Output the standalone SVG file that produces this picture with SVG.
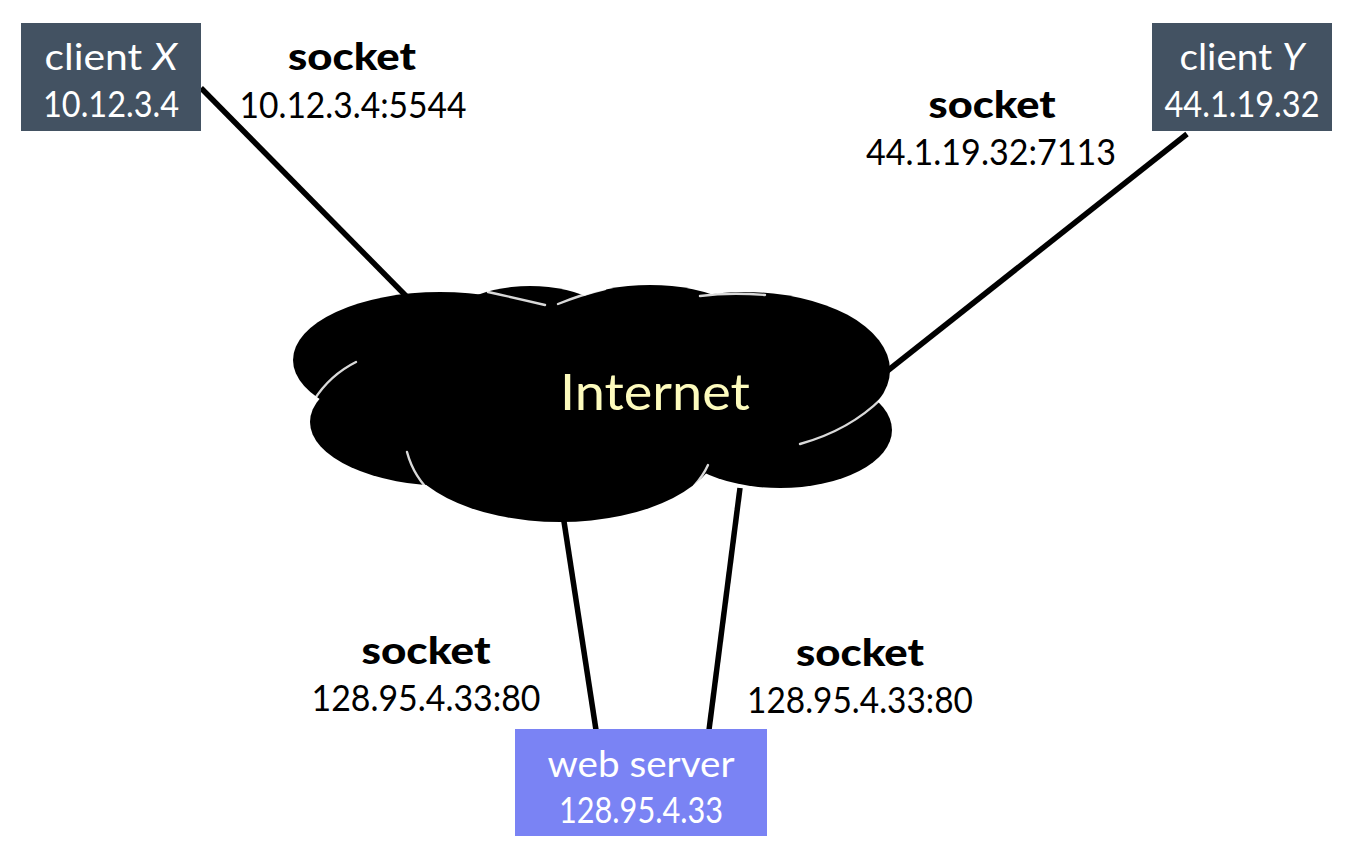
<svg xmlns="http://www.w3.org/2000/svg" width="1350" height="860" viewBox="0 0 1350 860">
<style>
.box{fill:#435262}
.srv{fill:#7a83f4}
.bt{font-family:Lato,"Open Sans","DejaVu Sans",sans-serif;font-size:37px;fill:#ffffff;text-anchor:middle}
.lbl{font-family:Lato,"Open Sans","DejaVu Sans",sans-serif;font-size:37px;fill:#000;text-anchor:middle}
.sock{font-family:Lato,"Open Sans","DejaVu Sans",sans-serif;font-size:38px;font-weight:900;fill:#000;text-anchor:middle}
.conn{stroke:#000;stroke-width:5.5;stroke-linecap:butt;fill:none}
.seam{stroke:#ffffff;stroke-width:2.4;fill:none;stroke-linecap:round;opacity:0.85}
</style>
<rect width="1350" height="860" fill="#ffffff"/>
<g id="connectors">
<line class="conn" x1="201" y1="88" x2="410" y2="300"/>
<line class="conn" x1="1187" y1="134" x2="886" y2="372"/>
<line class="conn" x1="563" y1="515" x2="596" y2="730"/>
<line class="conn" x1="740" y1="488" x2="709" y2="730"/>
</g>
<g id="internet">
<g fill="#000">
<ellipse cx="440" cy="360" rx="147" ry="68"/>
<ellipse cx="450" cy="422" rx="140" ry="64"/>
<ellipse cx="560" cy="440" rx="160" ry="82"/>
<ellipse cx="530" cy="340" rx="95" ry="54"/>
<ellipse cx="650" cy="342" rx="112" ry="57"/>
<ellipse cx="780" cy="430" rx="112" ry="58"/>
<ellipse cx="745" cy="370" rx="145" ry="78"/>
<ellipse cx="600" cy="400" rx="150" ry="90"/>
</g>
<path class="seam" d="M488,292 Q520,299 545,305"/>
<path class="seam" d="M558,304 Q580,295 605,289"/>
<path class="seam" d="M700,296 Q730,292 765,295" opacity="0.5"/>
<path class="seam" d="M314,400 Q330,375 356,362"/>
<path class="seam" d="M407,452 Q414,478 434,495"/>
<path class="seam" d="M708,465 Q703,476 694,486"/>
<path class="seam" d="M882,398 Q850,430 800,444"/>
<text x="655" y="410" font-family="Lato,'Open Sans','DejaVu Sans',sans-serif" font-size="50" fill="#fdfbbd" text-anchor="middle" textLength="190" lengthAdjust="spacingAndGlyphs">Internet</text>
</g>
<g id="clientX">
<rect class="box" x="21" y="23" width="180" height="108"/>
<text class="bt" x="111" y="70" textLength="133" lengthAdjust="spacingAndGlyphs">client <tspan font-style="italic">X</tspan></text>
<text class="bt" x="111" y="117" textLength="136" lengthAdjust="spacingAndGlyphs">10.12.3.4</text>
</g>
<g id="clientY">
<rect class="box" x="1152" y="23" width="180" height="108"/>
<text class="bt" x="1242" y="70" textLength="125" lengthAdjust="spacingAndGlyphs">client <tspan font-style="italic">Y</tspan></text>
<text class="bt" x="1242" y="117" textLength="155" lengthAdjust="spacingAndGlyphs">44.1.19.32</text>
</g>
<g id="webserver">
<rect class="srv" x="515" y="729" width="252" height="107"/>
<text class="bt" x="641" y="777" textLength="187" lengthAdjust="spacingAndGlyphs">web server</text>
<text class="bt" x="641" y="823" textLength="164" lengthAdjust="spacingAndGlyphs">128.95.4.33</text>
</g>
<g id="socketX">
<text class="sock" x="352" y="70" textLength="128" lengthAdjust="spacingAndGlyphs">socket</text>
<text class="lbl" x="353" y="118" textLength="227" lengthAdjust="spacingAndGlyphs">10.12.3.4:5544</text>
</g>
<g id="socketY">
<text class="sock" x="992" y="118" textLength="127" lengthAdjust="spacingAndGlyphs">socket</text>
<text class="lbl" x="991" y="165" textLength="250" lengthAdjust="spacingAndGlyphs">44.1.19.32:7113</text>
</g>
<g id="socketS1">
<text class="sock" x="426" y="664" textLength="129" lengthAdjust="spacingAndGlyphs">socket</text>
<text class="lbl" x="426" y="711" textLength="229" lengthAdjust="spacingAndGlyphs">128.95.4.33:80</text>
</g>
<g id="socketS2">
<text class="sock" x="860" y="666" textLength="128" lengthAdjust="spacingAndGlyphs">socket</text>
<text class="lbl" x="860" y="713" textLength="226" lengthAdjust="spacingAndGlyphs">128.95.4.33:80</text>
</g>
</svg>
